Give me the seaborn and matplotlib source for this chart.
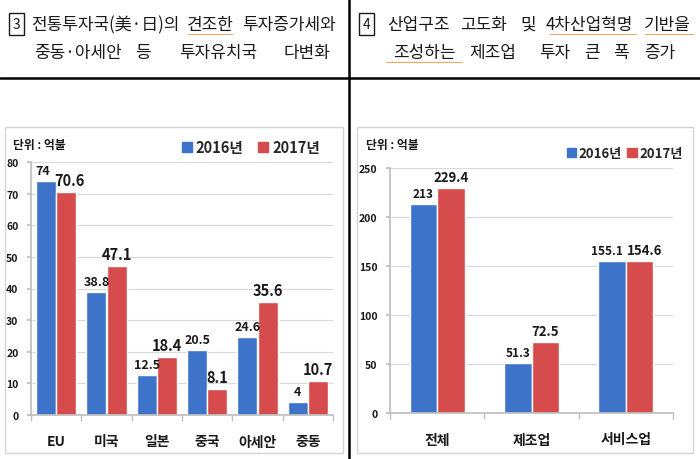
import pandas as pd
import numpy as np
import seaborn as sns
import matplotlib.pyplot as plt
from matplotlib.patches import Rectangle
from matplotlib.lines import Line2D

# data
years = ['2016년', '2017년']
regions = ['EU', '미국', '일본', '중국', '아세안', '중동']
region_2016 = [74, 38.8, 12.5, 20.5, 24.6, 4]
region_2017 = [70.6, 47.1, 18.4, 8.1, 35.6, 10.7]
sectors = ['전체', '제조업', '서비스업']
sector_2016 = [213, 51.3, 155.1]
sector_2017 = [229.4, 72.5, 154.6]

blue = '#3d73c8'
red = '#d64b4b'

sns.set_theme(style='white')
plt.rcParams['font.family'] = ['Noto Sans CJK KR', 'DejaVu Sans']

W, H = 700, 460
fig = plt.figure(figsize=(7, 4.6), dpi=100)


def box(x0, y0, x1, y1):
    return [x0 / W, 1 - y1 / H, (x1 - x0) / W, (y1 - y0) / H]


def fx(x):
    return x / W


def fy(y):
    return 1 - y / H


# frame lines of the page
fig.add_artist(Line2D([0, 1], [fy(79), fy(79)], color='black', lw=1.8, transform=fig.transFigure))
fig.add_artist(Line2D([fx(349), fx(349)], [0, 1], color='black', lw=1.8, transform=fig.transFigure))

# chart panels
for x0, x1 in [(5, 343), (357, 693)]:
    fig.add_artist(Rectangle((fx(x0), fy(454)), (x1 - x0) / W, (454 - 128) / H, fill=False,
                             edgecolor='#d4d4d4', lw=1, transform=fig.transFigure))


# headers: each word centred in the span it takes in the reference
def word(x0, x1, y, s):
    fig.text(fx((x0 + x1) / 2), fy(y), s, ha='center', va='center', fontsize=12.2,
             fontweight='medium', color='#1a1a1a')


def numbox(x, y, s):
    fig.text(fx(x), fy(y), s, ha='center', va='center', fontsize=10, color='#1a1a1a',
             bbox=dict(boxstyle='square,pad=0.3', fc='white', ec='#1a1a1a', lw=1))


def squiggle(x0, x1, y):
    fig.add_artist(Line2D([fx(x0), fx(x1)], [fy(y), fy(y)], color='#f0a860', lw=0.8,
                          transform=fig.transFigure))


numbox(16.5, 25, '3')
for x0, x1, s in [(37, 173, '전통투자국(美·日)의'), (188, 232, '견조한'), (243, 335, '투자증가세와')]:
    word(x0, x1, 25, s)
for x0, x1, s in [(35, 121, '중동·아세안'), (135, 150, '등'), (173, 263, '투자유치국'), (280, 333, '다변화')]:
    word(x0, x1, 53, s)
squiggle(188, 232, 35)

numbox(366.5, 25, '4')
for x0, x1, s in [(386, 450, '산업구조'), (460, 507, '고도화'), (520, 536, '및'),
                  (543, 636, '4차산업혁명'), (645, 690, '기반을')]:
    word(x0, x1, 25, s)
for x0, x1, s in [(386, 462, '조성하는'), (473, 512, '제조업'), (538, 572, '투자'),
                  (583, 600, '큰'), (612, 630, '폭'), (637, 683, '증가')]:
    word(x0, x1, 53, s)
squiggle(550, 636, 35)
squiggle(645, 693, 35)
squiggle(386, 462, 63)


def draw(ax, cats, v16, v17, width, ymax, step, size16, size17, nudge, shift):
    df = pd.DataFrame({
        'cat': cats * 2,
        'year': [years[0]] * len(cats) + [years[1]] * len(cats),
        'val': v16 + v17,
    })
    sns.barplot(data=df, x='cat', y='val', hue='year', palette=[blue, red], width=width,
                saturation=1, errorbar=None, legend=False, ax=ax)
    for k, (cont, fs) in enumerate(zip(ax.containers, [size16, size17])):
        texts = ax.bar_label(cont, fmt='%g', padding=3, fontsize=fs, fontweight='bold', color='#1a1a1a')
        # push crowded label pairs apart a little
        for i in nudge:
            texts[i].xyann = ((-shift if k == 0 else shift), 3)
    ax.set_ylim(0, ymax)
    ax.set_yticks(np.arange(0, ymax + 1, step))
    ax.set_xlim(-0.5, len(cats) - 0.5)
    ax.set_xticks(np.arange(-0.5, len(cats)), minor=True)
    ax.yaxis.grid(True, color='#d9d9d9', lw=0.8)
    ax.set_axisbelow(True)
    ax.set_xlabel('')
    ax.set_ylabel('')
    for s in ['top', 'right']:
        ax.spines[s].set_visible(False)
    for s in ['left', 'bottom']:
        ax.spines[s].set_color('#bfbfbf')
    ax.tick_params(axis='x', which='major', length=0, pad=14)
    ax.tick_params(axis='x', which='minor', length=4, color='#bfbfbf', bottom=True)
    ax.tick_params(axis='y', length=3, color='#bfbfbf', labelsize=7.5, pad=6, left=True)
    for t in ax.get_yticklabels():
        t.set_fontweight('bold')
        t.set_color('#1a1a1a')
    for t in ax.get_xticklabels():
        t.set_fontweight('bold')
        t.set_fontsize(10)
        t.set_color('#1a1a1a')


ax1 = fig.add_axes(box(31, 163, 333, 416))
draw(ax1, regions, region_2016, region_2017, 0.8, 80, 10, 9, 10.5, nudge=[0], shift=2.5)

ax2 = fig.add_axes(box(390, 169, 673, 414))
draw(ax2, sectors, sector_2016, sector_2017, 0.58, 250, 50, 8.5, 9.5, nudge=[2], shift=3.5)

# unit labels
fig.text(fx(13), fy(145), '단위 : 억불', ha='left', va='center', fontsize=8.5, fontweight='bold', color='#1a1a1a')
fig.text(fx(366), fy(146), '단위 : 억불', ha='left', va='center', fontsize=8.5, fontweight='bold', color='#1a1a1a')

# legends
handles = [Rectangle((0, 0), 1, 1, color=blue), Rectangle((0, 0), 1, 1, color=red)]
fig.legend(handles, years, loc='center left', bbox_to_anchor=(fx(182), fy(148)), ncol=2,
           frameon=False, prop={'size': 10.5, 'weight': 'bold'}, handlelength=0.7, handleheight=0.7,
           handletextpad=0.25, columnspacing=1.0, borderpad=0, borderaxespad=0)
fig.legend(handles, years, loc='center left', bbox_to_anchor=(fx(567), fy(154)), ncol=2,
           frameon=False, prop={'size': 9.5, 'weight': 'bold'}, handlelength=0.7, handleheight=0.7,
           handletextpad=0.2, columnspacing=0.4, borderpad=0, borderaxespad=0)

fig.savefig('out.png', dpi=100, facecolor='white')
